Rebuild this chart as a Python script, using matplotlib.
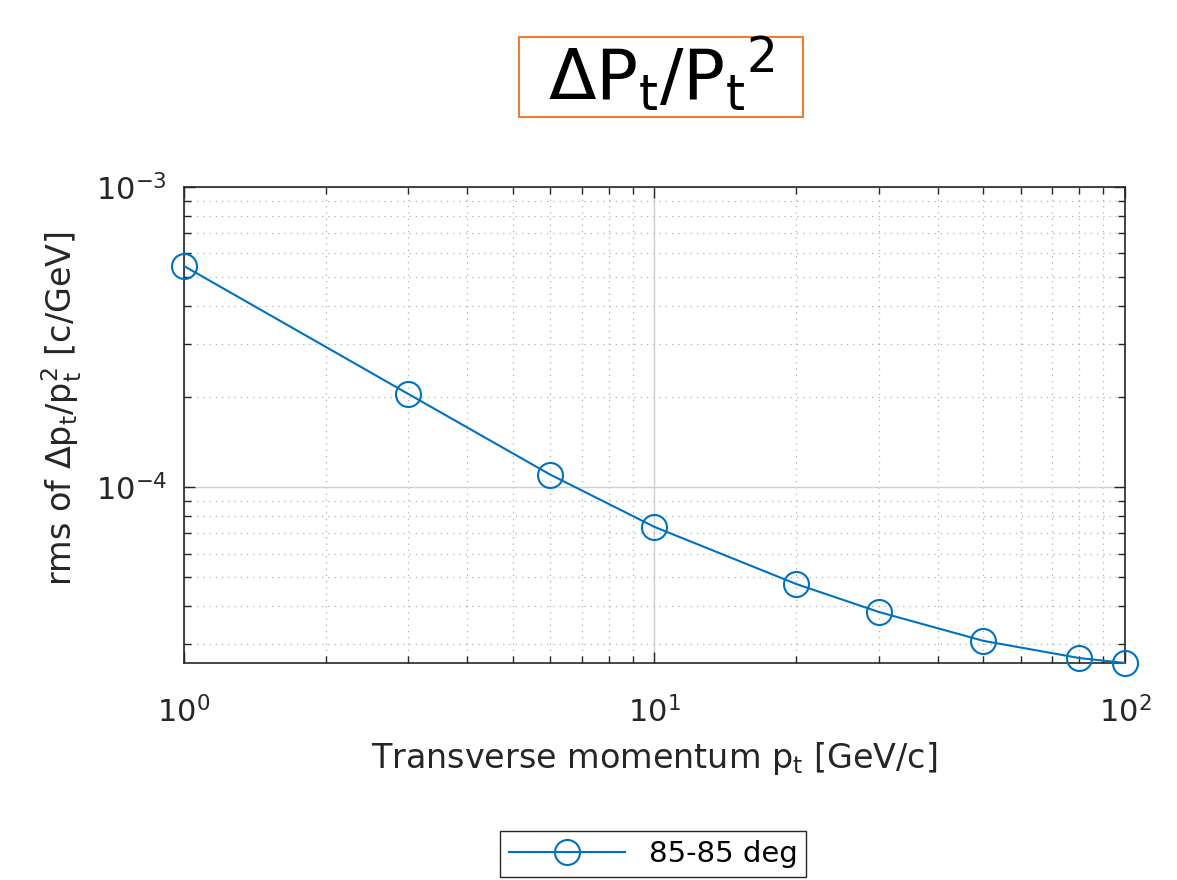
import numpy as np
import matplotlib.pyplot as plt
from matplotlib.patches import Rectangle
from matplotlib.ticker import LogLocator, NullFormatter

plt.rcParams['font.family'] = ['DejaVu Sans']
plt.rcParams['mathtext.fontset'] = 'dejavusans'

# transverse momentum [GeV/c]
pt = [1, 3, 6, 10, 20, 30, 50, 80, 100]
# rms of dpt/pt^2 [c/GeV]
rms_res = [5.45e-4, 2.04e-4, 1.10e-4, 7.36e-5, 4.75e-5, 3.83e-5, 3.07e-5, 2.69e-5, 2.59e-5]
series_label = "85-85 deg"

BLUE = "#0072BD"
TXT = "#262626"
W, H = 1177, 880

fig = plt.figure(figsize=(W / 100, H / 100), dpi=100)
ax = fig.add_axes([0.1563, 0.2466, 0.7995, 0.541])

ax.plot(pt, rms_res, color=BLUE, lw=1.5, marker="o", ms=18, mfc="none",
        mec=BLUE, mew=1.5, label=series_label, clip_on=False, zorder=5)

ax.set_xscale("log")
ax.set_yscale("log")
ax.set_xlim(1, 100)
ax.set_ylim(2.59e-5, 1e-3)

ax.xaxis.set_minor_locator(LogLocator(base=10, subs=np.arange(2, 10)))
ax.yaxis.set_minor_locator(LogLocator(base=10, subs=np.arange(2, 10)))
ax.xaxis.set_minor_formatter(NullFormatter())
ax.yaxis.set_minor_formatter(NullFormatter())
ax.set_yticks([1e-4, 1e-3])

ax.tick_params(which="both", direction="in", top=True, right=True,
               colors=TXT, labelsize=22, width=1)
ax.tick_params(which="major", length=8)
ax.tick_params(which="minor", length=5)
ax.tick_params(axis="x", which="major", pad=24)
ax.tick_params(axis="y", which="major", pad=12)
for s in ax.spines.values():
    s.set_color(TXT)
    s.set_linewidth(1.2)

ax.grid(True, which="major", color="#cfcfcf", lw=1.0, ls="-")
ax.grid(True, which="minor", color="#b0b0b0", lw=0.9, ls=(0, (1, 4)))
ax.set_axisbelow(True)

ax.set_xlabel(r"Transverse momentum $\mathregular{p_t}$ [GeV/c]", fontsize=24,
              color=TXT, labelpad=8)
ax.set_ylabel(r"rms of $\Delta\mathregular{p_t/p_t^2}$ [c/GeV]", fontsize=24,
              color=TXT)
ax.yaxis.set_label_coords(-0.106, 0.535)

# boxed headline above the plot
fig.patches.append(Rectangle((519 / W, 1 - 117 / H), 284 / W, 80 / H,
                             transform=fig.transFigure, fill=False,
                             ec="#ED7D31", lw=1.5))
fig.text(661 / W, 1 - 74 / H, r"$\Delta\mathregular{P_t/P_t{}^2}$", fontsize=50,
         ha="center", va="center", color="black")

fig.legend(loc="center", bbox_to_anchor=(653 / W, 1 - 854 / H), fontsize=21,
           frameon=True, fancybox=False, edgecolor=TXT, framealpha=1,
           handlelength=4.0, borderpad=0.3)

fig.savefig("out.png", dpi=100)
